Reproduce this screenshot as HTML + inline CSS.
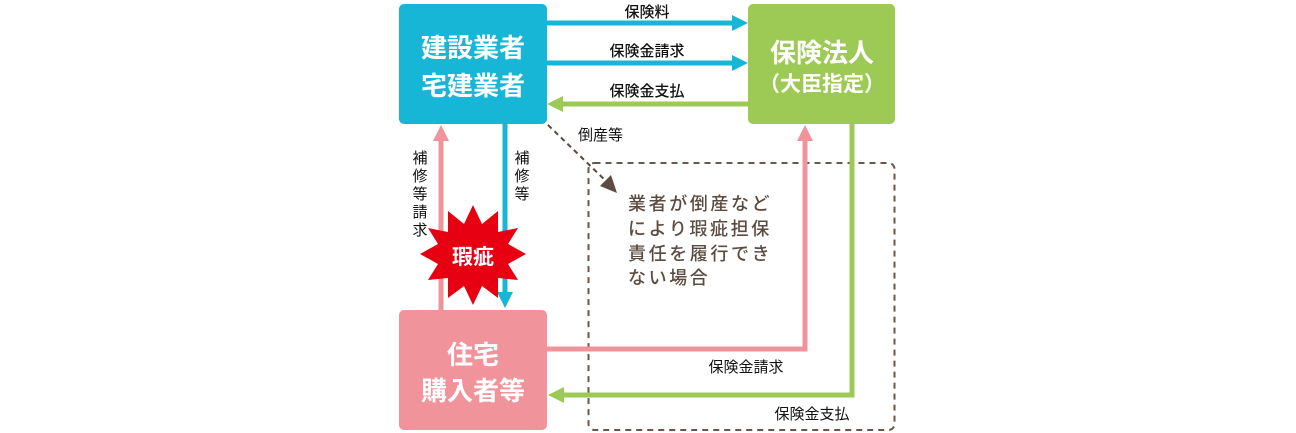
<!DOCTYPE html>
<html><head><meta charset="utf-8"><style>
body{margin:0;background:#fff;}
svg{display:block;}
text{font-family:"Liberation Sans","Noto Sans CJK JP",sans-serif;}
</style></head><body>
<svg width="1296" height="433" viewBox="0 0 1296 433" xmlns="http://www.w3.org/2000/svg">
<rect x="588.5" y="163" width="306" height="267" rx="6" fill="none" stroke="#6b5648" stroke-width="2" stroke-dasharray="6,5"/>
<rect x="399" y="4" width="148" height="120" rx="5" fill="#17b6d6"/>
<rect x="748" y="4" width="147" height="120" rx="5" fill="#9cca55"/>
<rect x="399" y="310" width="148" height="120" rx="5" fill="#f0939a"/>
<g font-weight="bold" fill="#fff" text-anchor="middle">
<text x="473" y="57" font-size="26">建設業者</text>
<text x="473" y="95" font-size="26">宅建業者</text>
<text x="822" y="62" font-size="26">保険法人</text>
<text x="822" y="91" font-size="21">（大臣指定）</text>
<text x="473" y="364" font-size="26">住宅</text>
<text x="473" y="400" font-size="26">購入者等</text>
</g>
<line x1="547" y1="23" x2="735" y2="23" stroke="#17b6d6" stroke-width="5"/>
<polygon points="732,15 748,23 732,31" fill="#17b6d6"/>
<line x1="547" y1="63" x2="735" y2="63" stroke="#17b6d6" stroke-width="5"/>
<polygon points="732,55 748,63 732,71" fill="#17b6d6"/>
<line x1="560" y1="104" x2="748" y2="104" stroke="#9cca55" stroke-width="5"/>
<polygon points="563,96 547,104 563,112" fill="#9cca55"/>
<g font-size="15" fill="#111" text-anchor="middle" font-weight="500">
<text x="647" y="17">保険料</text>
<text x="647" y="56">保険金請求</text>
<text x="647" y="96">保険金支払</text>
</g>
<line x1="441" y1="140" x2="441" y2="310" stroke="#f0939a" stroke-width="5"/>
<polygon points="433,141 441,125 449,141" fill="#f0939a"/>
<line x1="505" y1="124" x2="505" y2="294" stroke="#17b6d6" stroke-width="5"/>
<polygon points="497,292 505,308 513,292" fill="#17b6d6"/>
<g font-size="15" fill="#111" text-anchor="middle">
<text x="420" y="163">補</text><text x="420" y="181">修</text><text x="420" y="199">等</text><text x="420" y="217">請</text><text x="420" y="235">求</text>
<text x="522" y="163">補</text><text x="522" y="181">修</text><text x="522" y="199">等</text>
</g>
<polygon fill="#e60012" points="
473,205 482,224 498,211 498,232 518,228 508,244 526,254 508,264 518,280 498,278 498,298 482,286 473,305 464,286 448,298 448,278 428,280 438,264 420,254 438,244 428,228 448,232 448,211 464,224"/>
<text x="473" y="264" font-size="21" font-weight="bold" fill="#fff" text-anchor="middle">瑕疵</text>
<polyline points="547,349 805,349 805,140" fill="none" stroke="#f0939a" stroke-width="5"/>
<polygon points="797,141 805,125 813,141" fill="#f0939a"/>
<polyline points="852,124 852,395 562,395" fill="none" stroke="#9cca55" stroke-width="5"/>
<polygon points="564,387 548,395 564,403" fill="#9cca55"/>
<text x="746" y="372" font-size="15" fill="#111" text-anchor="middle">保険金請求</text>
<text x="812" y="419" font-size="15" fill="#111" text-anchor="middle">保険金支払</text>
<line x1="548" y1="125" x2="607" y2="182" stroke="#5b4b40" stroke-width="2" stroke-dasharray="5,4"/>
<polygon points="600,186 617,193 611,175" fill="#5b4b40"/>
<text x="578" y="140" font-size="15" fill="#111">倒産等</text>
<g font-size="18" fill="#5b4b40" letter-spacing="2.6" font-weight="500">
<text x="628" y="210">業者が倒産など</text>
<text x="628" y="235">により瑕疵担保</text>
<text x="628" y="260">責任を履行でき</text>
<text x="628" y="284">ない場合</text>
</g>
</svg>
</body></html>
